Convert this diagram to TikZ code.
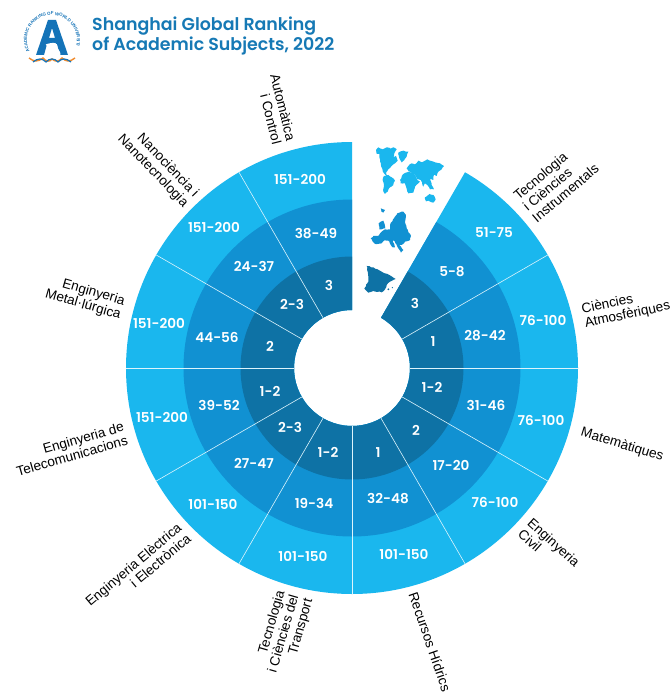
\documentclass[tikz,border=0pt]{standalone}
\usepackage{fontspec}
\setmainfont{Liberation Sans}
\newfontfamily\numf{Poppins SemiBold}
\newfontfamily\titlef{Poppins}[BoldFont=* Bold]
\usetikzlibrary{calc,decorations.text,decorations.pathmorphing}
\definecolor{outerc}{HTML}{1AB7EE}
\definecolor{midc}{HTML}{1191D2}
\definecolor{innerc}{HTML}{0E72A5}
\definecolor{titlec}{HTML}{1679B5}
\definecolor{logoc}{HTML}{1473B8}
\definecolor{wavec}{HTML}{F08A2C}
\tikzset{
 rank/.style={text=white,font=\numf\fontsize{13.6}{13.6}\selectfont,inner sep=0pt},
 subj/.style={text=black,font=\fontsize{13.6}{14.5}\selectfont,inner sep=0pt},
 linesub/.style={subj,align=right},
 linesubl/.style={subj,align=left},
 divider/.style={draw=white!85!outerc,line width=0.6pt},
 titletxt/.style={text=titlec,font=\numf\fontsize{17.4}{19.5}\selectfont,align=left,anchor=north west,inner sep=0pt},
 mapz/.style={shift={(340pt,-130pt)},x=0.3333pt,y=-0.3333pt},
 coast/.style={decorate,decoration={random steps,segment length=2.2pt,amplitude=0.45pt}}
}
\pgfmathsetseed{7}
\begin{document}
\begin{tikzpicture}[x=1pt,y=1pt]
\useasboundingbox (0,0) rectangle (670,-693);
\fill[white] (0,0) rectangle (670,-693);
\coordinate (c) at (352,-368);
% rings
\fill[outerc] ($(c)+(90:226)$) arc (90:420:226) -- ($(c)+(60:58)$) arc (420:90:58) -- cycle;
\fill[midc] ($(c)+(90:168.5)$) arc (90:420:168.5) -- ($(c)+(60:58)$) arc (420:90:58) -- cycle;
\fill[innerc] ($(c)+(90:111.5)$) arc (90:420:111.5) -- ($(c)+(60:58)$) arc (420:90:58) -- cycle;
% dividers
\foreach \a in {30,0,-30,-60,-90,-120,-150,180,150,120}{
  \draw[divider] ($(c)+(\a:58)$) -- ($(c)+(\a:226)$);
}
% rank labels
\foreach \n/\x/\y/\t in {
 a1/300/179/151-200,a2/316/234/38-49,a3/329/285/3,
 b1/214/227/151-200,b2/254/266/24-37,b3/292/304/2-3,
 d1/159/323/151-200,d2/217/337/44-56,d3/270/346/2,
 e1/162/417/151-200,e2/219/405/39-52,e3/270/391/1-2,
 f1/213/504/101-150,f2/254/463/27-47,f3/290/427/2-3,
 g1/303/556/101-150,g2/314/503/19-34,g3/328/452/1-2,
 h1/404/554/101-150,h2/388/499/32-48,h3/378/453/1,
 i1/495/502/76-100,i2/451/465/17-20,i3/416/430/2,
 j1/541/420/76-100,j2/486/405/31-46,j3/432/387/1-2,
 k1/543/320/76-100,k2/485/336/28-42,k3/433/342/1,
 l1/494/233/51-75,l2/452/272/5-8,l3/415/303/3}{
  \node[rank] (\n) at (\x,-\y) {\t};
}
% subject labels
\node[linesub,rotate=-76] (s1) at (276,-109) {Automàtica\\i Control};
\node[linesub,rotate=-46] (s2) at (158,-166) {Nanociència i\\Nanotecnologia};
\node[linesub,rotate=-16] (s3) at (85,-298) {Enginyeria\\Metal·lúrgica};
\node[linesub,rotate=16] (s4) at (70,-449) {Enginyeria de\\Telecomunicacions};
\node[linesub,rotate=40] (s5) at (138,-570) {Enginyeria Elèctrica\\i Electrònica};
\node[linesub,rotate=74] (s6) at (284,-634) {Tecnologia\\i Ciències del\\Transport};
\node[subj,rotate=-71] (s7) at (430,-642) {Recursos Hídrics};
\node[linesubl,rotate=-42] (s8) at (549,-548) {Enginyeria\\Civil};
\node[subj,rotate=-17] (s9) at (622,-445) {Matemàtiques};
\node[linesubl,rotate=12] (s10) at (626,-308) {Ciències\\Atmosfèriques};
\node[linesubl,rotate=40] (s11) at (556,-182) {Tecnologia\\i Ciències\\Instrumentals};
% title
\node[titletxt] (title) at (92,-17) {Shanghai Global Ranking\\of Academic Subjects, 2022};
% logo
\path[decorate,decoration={text along path,text align=center,
  text={|\fontsize{4.4}{4.4}\selectfont\bfseries\color{logoc}|ACADEMIC RANKING OF WORLD UNIVERSITIES}}]
  (52,-40) ++(195:25) arc (195:-15:25);
\fill[logoc,even odd rule] (36,-55) -- (48,-20) -- (56,-20) -- (68,-55) -- (60,-55) -- (57,-44) -- (47,-44) -- (44,-55) -- cycle
  (49,-38) -- (55,-38) -- (52,-28) -- cycle;
\draw[white,line width=1.2pt] (46,-45) .. controls (54,-42) and (60,-44) .. (53,-47) .. controls (58,-49) and (60,-51) .. (60,-56);
\draw[wavec,line width=1.4pt] (29,-58) .. controls (34,-62) and (38,-62) .. (43,-58) .. controls (46,-62) and (50,-62) .. (52,-59) .. controls (55,-62) and (59,-62) .. (62,-58) .. controls (66,-62) and (70,-62) .. (75,-58);
\draw[logoc,line width=1.2pt] (33,-62) .. controls (38,-58) and (42,-58) .. (46,-62) .. controls (49,-58) and (55,-58) .. (58,-62) .. controls (62,-58) and (66,-58) .. (71,-62);
% world
\begin{scope}[mapz]
\fill[outerc,coast] (108,60)--(115,52)--(128,58)--(140,52)--(152,56)--(160,52)--(170,58)--(163,70)--(160,82)--(168,78)--(173,92)--(165,100)--(155,108)--(145,118)--(138,128)--(140,135)--(152,142)--(146,144)--(132,130)--(123,108)--(120,88)--(118,72)--(110,72)--cycle;
\fill[outerc,coast] (175,68)--(190,62)--(205,65)--(200,80)--(185,97)--(178,85)--cycle;
\fill[outerc,coast] (132,138)--(145,135)--(155,142)--(165,152)--(160,165)--(150,172)--(143,185)--(135,192)--(130,185)--(132,165)--(128,150)--cycle;
\fill[outerc,coast] (205,108)--(215,100)--(225,103)--(235,92)--(245,97)--(262,88)--(285,97)--(300,100)--(312,108)--(305,118)--(295,125)--(290,138)--(282,134)--(280,150)--(270,148)--(275,165)--(282,178)--(270,178)--(262,165)--(255,160)--(250,170)--(242,150)--(232,148)--(225,135)--(205,122)--(200,115)--cycle;
\fill[outerc,coast] (180,150)--(190,132)--(205,125)--(222,132)--(232,150)--(240,155)--(225,170)--(220,188)--(205,190)--(198,170)--(195,160)--(182,160)--cycle;
\fill[outerc,coast] (255,202)--(268,192)--(280,195)--(287,208)--(280,218)--(265,212)--(258,214)--cycle;
% Europe
\fill[midc,coast] (122,235)--(135,240)--(130,248)--(124,245)--cycle;
\fill[midc,coast] (116,280)--(130,272)--(136,295)--(118,298)--cycle;
\fill[midc,coast] (92,325)--(100,318)--(115,318)--(122,308)--(135,298)--(150,298)--(150,285)--(158,270)--(172,250)--(190,245)--(198,255)--(195,275)--(200,295)--(213,318)--(210,330)--(195,335)--(185,345)--(178,345)--(190,360)--(183,368)--(172,350)--(165,335)--(158,330)--(165,352)--(158,352)--(145,332)--(135,330)--(125,340)--(105,342)--(98,335)--cycle;
% Spain
\fill[innerc,coast] (80,408)--(100,412)--(125,425)--(148,435)--(167,447)--(150,455)--(140,465)--(135,478)--(125,487)--(100,483)--(85,488)--(73,475)--(85,455)--(85,440)--cycle;
\fill[innerc] (145,478) circle (3);
\fill[innerc] (157,473) circle (2);
\end{scope}
\end{tikzpicture}
\end{document}
